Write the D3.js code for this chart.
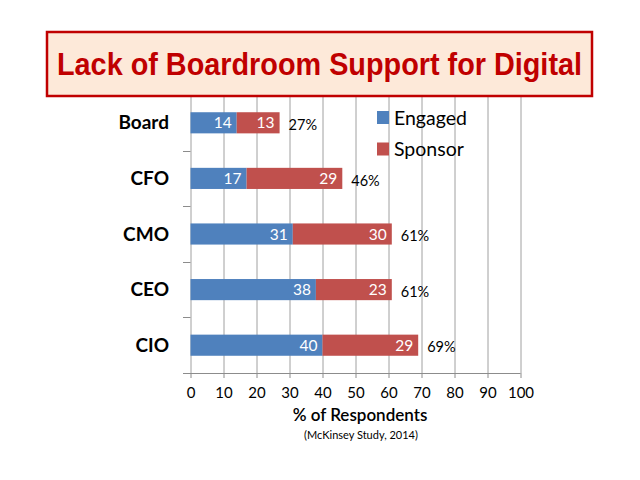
<!DOCTYPE html>
<html>
<head>
<meta charset="utf-8">
<script src="https://cdn.jsdelivr.net/npm/d3@7/dist/d3.min.js"></script>
<style>
  html, body { margin: 0; padding: 0; background: #fff; }
  svg { display: block; }
</style>
</head>
<body>
<svg id="chart" width="640" height="480"></svg>
<script>
const categories = ["Board", "CFO", "CMO", "CEO", "CIO"];
const engaged = [14, 17, 31, 38, 40];
const sponsor = [13, 29, 30, 23, 29];
const totals = ["27%", "46%", "61%", "61%", "69%"];
const xTicks = [0, 10, 20, 30, 40, 50, 60, 70, 80, 90, 100];
const seriesNames = ["Engaged", "Sponsor"];
const seriesColors = ["#4f81bd", "#c0504d"];
const titleText = "Lack of Boardroom Support for Digital";
const xTitle = "% of Respondents";
const sourceText = "(McKinsey Study, 2014)";

const svg = d3.select("#chart");
const font = "Lato, 'Open Sans', sans-serif";

const x = d3.scaleLinear().domain([0, 100]).range([190.5, 520.5]);
const y = d3.scaleBand().domain(categories).range([95, 373]).paddingInner(0.62).paddingOuter(0.31);

// gridlines
const grid = svg.append("g").attr("transform", "translate(0,373)")
  .call(d3.axisBottom(x).tickValues(xTicks).tickSize(-278).tickFormat(""));
grid.select(".domain").remove();
grid.selectAll("line").attr("stroke", "#a0a0a0").attr("stroke-width", 1);

// x axis
const xa = svg.append("g").attr("transform", "translate(0,373)")
  .call(d3.axisBottom(x).tickValues(xTicks).tickSize(5).tickSizeOuter(0).tickPadding(9));
xa.select(".domain").attr("d", "M183,0.5H" + x(100)).attr("stroke", "#8c8c8c");
xa.selectAll("line").attr("stroke", "#8c8c8c");
xa.selectAll("text").attr("font-family", font).attr("font-size", 15).attr("fill", "#000");

// category boundary ticks
const step = y.step();
svg.append("g").selectAll("line")
  .data(categories.slice(1))
  .join("line")
  .attr("x1", 183).attr("x2", 190.5)
  .attr("y1", d => Math.round(y(d) - (step - y.bandwidth()) / 2) + 0.5)
  .attr("y2", d => Math.round(y(d) - (step - y.bandwidth()) / 2) + 0.5)
  .attr("stroke", "#8c8c8c");

// category labels
svg.append("g").selectAll("text")
  .data(categories)
  .join("text")
  .attr("x", 169)
  .attr("y", d => y(d) + y.bandwidth() / 2)
  .attr("dy", "0.35em")
  .attr("text-anchor", "end")
  .attr("font-family", font).attr("font-weight", "bold").attr("font-size", 19)
  .text(d => d);

// bars
const stackData = categories.map((c, i) => ({ cat: c, engaged: engaged[i], sponsor: sponsor[i] }));
const series = d3.stack().keys(["engaged", "sponsor"])(stackData);
const layers = svg.append("g").selectAll("g")
  .data(series)
  .join("g")
  .attr("fill", (d, i) => seriesColors[i]);
layers.selectAll("rect")
  .data(d => d)
  .join("rect")
  .attr("x", d => x(d[0]))
  .attr("y", d => y(d.data.cat))
  .attr("width", d => x(d[1]) - x(d[0]))
  .attr("height", y.bandwidth());
layers.selectAll("text")
  .data(d => d.map(v => ({ v, key: d.key })))
  .join("text")
  .attr("x", d => x(d.v[1]) - 5)
  .attr("y", d => y(d.v.data.cat) + y.bandwidth() / 2)
  .attr("dy", "0.36em")
  .attr("text-anchor", "end")
  .attr("fill", "#fff")
  .attr("font-family", font).attr("font-size", 15.5)
  .text(d => d.v.data[d.key]);

// totals
svg.append("g").selectAll("text")
  .data(categories)
  .join("text")
  .attr("x", (d, i) => x(engaged[i] + sponsor[i]) + 9)
  .attr("y", d => y(d) + y.bandwidth() / 2 + 2)
  .attr("dy", "0.36em")
  .attr("font-family", font).attr("font-size", 14.5).attr("fill", "#000")
  .text((d, i) => totals[i]);

// legend
const lg = svg.append("g");
seriesNames.forEach((name, i) => {
  const cy = 117.5 + i * 31.5;
  lg.append("rect").attr("x", 377).attr("y", cy - 6.5).attr("width", 12).attr("height", 13).attr("fill", seriesColors[i]);
  lg.append("text").attr("x", 394).attr("y", cy).attr("dy", "0.36em")
    .attr("font-family", font).attr("font-size", 19.5).attr("fill", "#000").text(name);
});

// axis titles
svg.append("text").attr("x", 360).attr("y", 421).attr("text-anchor", "middle")
  .attr("font-family", font).attr("font-size", 17).attr("font-weight", 600).attr("fill", "#000").text(xTitle);
svg.append("text").attr("x", 361).attr("y", 439).attr("text-anchor", "middle")
  .attr("font-family", font).attr("font-size", 11).attr("fill", "#000").text(sourceText);

// title box
svg.append("rect").attr("x", 47).attr("y", 32).attr("width", 545).attr("height", 64)
  .attr("fill", "#fde9d9").attr("stroke", "#c00000").attr("stroke-width", 2.5);
svg.append("text").attr("x", 319.5).attr("y", 75).attr("text-anchor", "middle")
  .attr("font-family", "'Liberation Sans', Arial, sans-serif").attr("font-weight", "bold")
  .attr("font-size", 32).attr("fill", "#c00000")
  .attr("textLength", 525).attr("lengthAdjust", "spacingAndGlyphs")
  .text(titleText);
</script>
</body>
</html>
